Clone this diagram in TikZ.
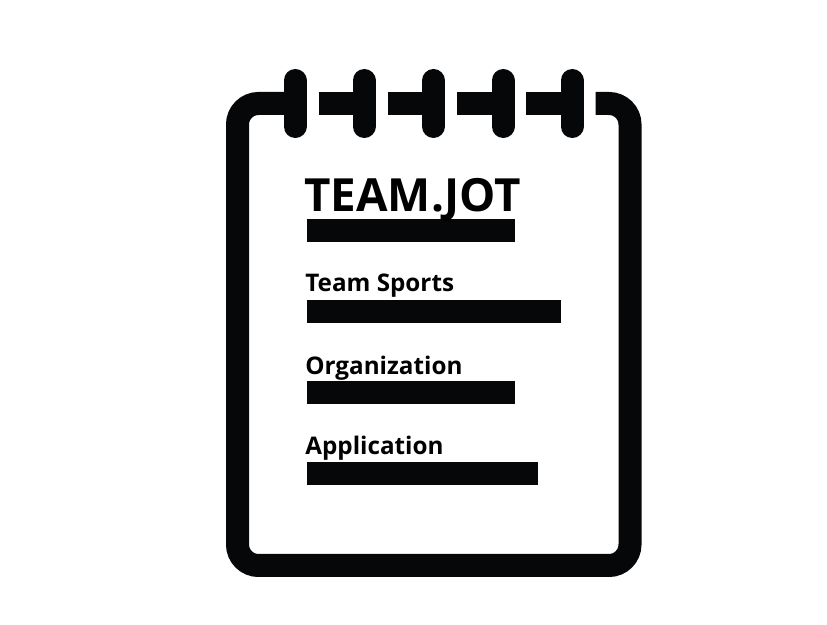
\documentclass[tikz,border=0pt]{standalone}
\usepackage{fontspec}
\setmainfont{Open Sans}
\definecolor{inkblack}{HTML}{060709}
\tikzset{
  ringline/.style={line width=0.46cm, line cap=round, draw=inkblack},
  bandline/.style={line width=0.46cm, draw=inkblack},
  titletext/.style={anchor=base west, inner sep=0pt, text=black, font=\bfseries\fontsize{26}{26}\selectfont},
  itemtext/.style={anchor=base west, inner sep=0pt, text=black, font=\bfseries\fontsize{13.8}{16}\selectfont},
}
\begin{document}
\begin{tikzpicture}
\useasboundingbox (0,0) rectangle (16.54,12.5);

% Cuerpo del bloc
\draw[bandline, rounded corners=0.42cm] (5.90,10.43) -- (4.75,10.43) -- (4.75,1.19) -- (12.60,1.19) -- (12.60,10.43) -- (11.91,10.43);

% Tramos de la banda superior
\draw[bandline] (6.37,10.43) -- (7.28,10.43);
\draw[bandline] (7.75,10.43) -- (8.67,10.43);
\draw[bandline] (9.13,10.43) -- (10.06,10.43);
\draw[bandline] (10.52,10.43) -- (11.44,10.43);

% Anillas
\foreach \x in {5.90, 7.28, 8.67, 10.06, 11.44}
  \draw[ringline] (\x,10.89) -- (\x,9.97);

% Barras
\fill[inkblack] (6.13,7.65) rectangle (10.29,8.11);
\fill[inkblack] (6.13,6.03) rectangle (11.22,6.50);
\fill[inkblack] (6.13,4.42) rectangle (10.29,4.88);
\fill[inkblack] (6.13,2.80) rectangle (10.76,3.26);

% Textos
\node[titletext] (title) at (6.08,8.27) {TEAM.JOT};
\node[itemtext] (sports) at (6.10,6.67) {Team Sports};
\node[itemtext] (organization) at (6.10,5.00) {Organization};
\node[itemtext] (application) at (6.10,3.40) {Application};

\end{tikzpicture}
\end{document}
